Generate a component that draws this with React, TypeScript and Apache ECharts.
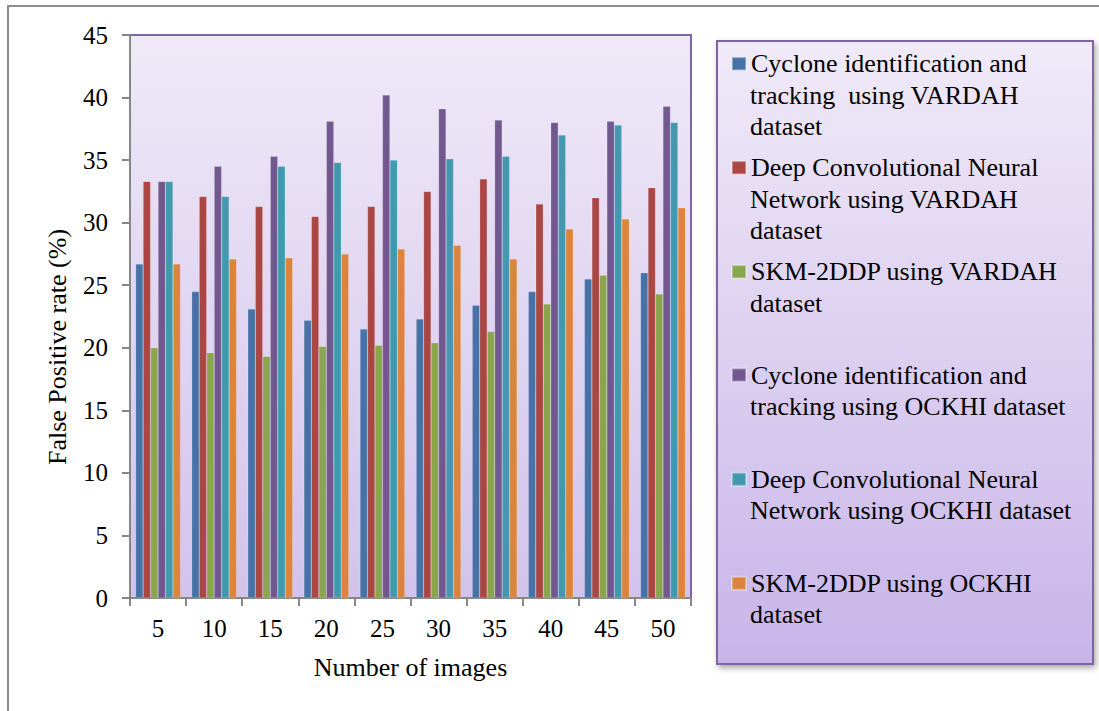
import React, { useEffect, useRef } from "react";
import * as echarts from "echarts";

const categories = ["5", "10", "15", "20", "25", "30", "35", "40", "45", "50"];

const seriesNames = [
  "Cyclone identification and tracking  using VARDAH dataset",
  "Deep Convolutional Neural Network using VARDAH dataset",
  "SKM-2DDP using VARDAH dataset",
  "Cyclone identification and tracking using OCKHI dataset",
  "Deep Convolutional Neural Network using OCKHI dataset",
  "SKM-2DDP using OCKHI dataset",
];

const legendLines = [
  ["Cyclone identification and", "tracking  using VARDAH", "dataset"],
  ["Deep Convolutional Neural", "Network using VARDAH", "dataset"],
  ["SKM-2DDP using VARDAH", "dataset"],
  ["Cyclone identification and", "tracking using OCKHI dataset"],
  ["Deep Convolutional Neural", "Network using OCKHI dataset"],
  ["SKM-2DDP using OCKHI", "dataset"],
];

const cycloneVardah = [26.7, 24.5, 23.1, 22.2, 21.5, 22.3, 23.4, 24.5, 25.5, 26.0];
const dcnnVardah = [33.3, 32.1, 31.3, 30.5, 31.3, 32.5, 33.5, 31.5, 32.0, 32.8];
const skmVardah = [20.0, 19.6, 19.3, 20.1, 20.2, 20.4, 21.3, 23.5, 25.8, 24.3];
const cycloneOckhi = [33.3, 34.5, 35.3, 38.1, 40.2, 39.1, 38.2, 38.0, 38.1, 39.3];
const dcnnOckhi = [33.3, 32.1, 34.5, 34.8, 35.0, 35.1, 35.3, 37.0, 37.8, 38.0];
const skmOckhi = [26.7, 27.1, 27.2, 27.5, 27.9, 28.2, 27.1, 29.5, 30.3, 31.2];

const seriesValues = [cycloneVardah, dcnnVardah, skmVardah, cycloneOckhi, dcnnOckhi, skmOckhi];
const colors = ["#4572A7", "#AA4643", "#89A54E", "#71588F", "#4198AF", "#DB843D"];

const FONT = "Liberation Serif";
const LH = 31.5;
const legendIconCenters = [63.7, 167.7, 271.7, 375, 479.3, 583.3];

export default function App() {
  const ref = useRef<HTMLDivElement>(null);
  useEffect(() => {
    if (!ref.current) return;
    const chart = echarts.init(ref.current, null, { renderer: "svg" });
    const legends = seriesNames.map((name, i) => ({
      data: [name],
      left: 731,
      top: legendIconCenters[i] - LH / 2,
      orient: "vertical",
      icon: "rect",
      itemWidth: 14,
      itemHeight: 13,
      padding: 0,
      itemGap: 0,
      selectedMode: false,
      z: 5,
      formatter: () => legendLines[i][0],
      textStyle: {
        fontFamily: FONT,
        fontSize: 26,
        lineHeight: LH,
        color: "#000",
      },
    }));
    const continuation = legendLines.map((lines, i) => ({
      type: "text",
      z: 5,
      x: 750,
      y: legendIconCenters[i] + LH / 2,
      style: {
        text: lines.slice(1).join("\n"),
        fontFamily: FONT,
        fontSize: 26,
        lineHeight: LH,
        fill: "#000",
        align: "left",
        verticalAlign: "top",
      },
    }));
    chart.setOption({
      animation: false,
      backgroundColor: "#fff",
      color: colors,
      textStyle: { fontFamily: FONT },
      graphic: [
        {
          type: "rect",
          z: -10,
          shape: { x: 8, y: 6, width: 1200, height: 800 },
          style: { fill: "none", stroke: "#8c8c8c", lineWidth: 2 },
        },
        {
          type: "rect",
          z: 0,
          shape: { x: 717, y: 41, width: 376, height: 623 },
          style: {
            fill: {
              type: "linear",
              x: 0,
              y: 0,
              x2: 0,
              y2: 1,
              colorStops: [
                { offset: 0, color: "#F0EAF8" },
                { offset: 1, color: "#C8B5E8" },
              ],
            },
            stroke: "#8064A2",
            lineWidth: 2,
            shadowBlur: 6,
            shadowOffsetX: 2,
            shadowOffsetY: 3,
            shadowColor: "rgba(0,0,0,0.35)",
          },
        },
        ...continuation,
      ],
      legend: legends,
      grid: {
        left: 130,
        top: 35,
        right: 1099 - 691,
        bottom: 711 - 598,
        show: true,
        borderColor: "#8064A2",
        borderWidth: 2,
        backgroundColor: {
          type: "linear",
          x: 0,
          y: 0,
          x2: 0,
          y2: 1,
          colorStops: [
            { offset: 0, color: "#EFE9F7" },
            { offset: 1, color: "#D2C3EC" },
          ],
        },
      },
      xAxis: {
        type: "category",
        data: categories,
        name: "Number of images",
        nameLocation: "middle",
        nameGap: 56,
        nameTextStyle: { fontFamily: FONT, fontSize: 26, color: "#000" },
        axisLine: { lineStyle: { color: "#868686", width: 2 } },
        axisTick: { show: true, length: 8, lineStyle: { color: "#868686", width: 2 } },
        axisLabel: { fontFamily: FONT, fontSize: 25, color: "#000", margin: 18 },
      },
      yAxis: {
        type: "value",
        min: 0,
        max: 45,
        interval: 5,
        name: "False Positive rate (%)",
        nameLocation: "middle",
        nameGap: 60,
        nameTextStyle: { fontFamily: FONT, fontSize: 26, color: "#000", padding: [0, 61, 0, 0] },
        axisLine: { show: true, lineStyle: { color: "#868686", width: 2 } },
        axisTick: { show: true, length: 8, lineStyle: { color: "#868686", width: 2 } },
        axisLabel: { fontFamily: FONT, fontSize: 25, color: "#000", margin: 22 },
        splitLine: { show: false },
      },
      series: seriesNames.map((name, i) => ({
        name,
        type: "bar",
        data: seriesValues[i],
        barGap: "0%",
        barCategoryGap: "20%",
        itemStyle: { color: colors[i], borderColor: "rgba(255,255,255,0.35)", borderWidth: 0.5 },
      })),
    });
    return () => chart.dispose();
  }, []);
  return <div ref={ref} style={{ position: "fixed", left: 0, top: 0, width: 1099, height: 711 }} />;
}
